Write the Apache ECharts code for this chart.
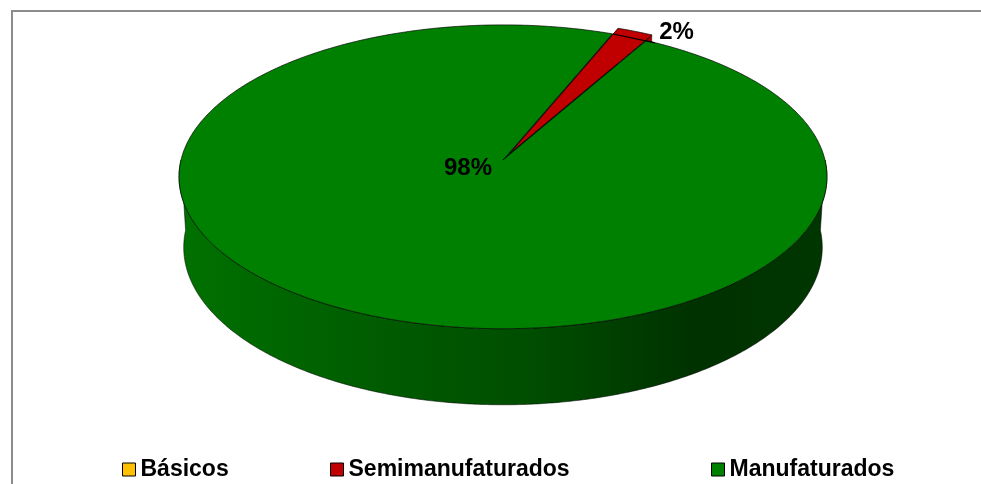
<!DOCTYPE html>
<html><head><meta charset="utf-8">
<script src="https://cdn.jsdelivr.net/npm/echarts@6/dist/echarts.min.js"></script>
<style>html,body{margin:0;padding:0;background:#fff}#c{width:981px;height:484px}</style>
</head><body><div id="c"></div>
<script>
// ---- data ----
const categories = ['Básicos', 'Semimanufaturados', 'Manufaturados'];
const values = [0, 2, 98];

// ---- styles / layout ----
const colors = ['#FFC000', '#C00000', '#008000'];
const EXPLODE = [0, 0.05, 0];
const PIE = { cx: 503, cy: 160, scale: 322, tiltSin: 0.466, dist: 8, height: 0.25, firstSliceAngle: 22 };
const LEGEND_LEFT = [122, 330, 711];
const INSIDE_LABEL_OFFSET = [-35, 8];
const FONT = '"Liberation Sans", Arial, Helvetica, sans-serif';

const cosA = Math.sqrt(1 - PIE.tiltSin * PIE.tiltSin);
const RAD = Math.PI / 180;
function proj(X, Y, Z) {
  const d = PIE.dist + Z * cosA - Y * PIE.tiltSin;
  const k = PIE.dist / d;
  return [PIE.cx + PIE.scale * X * k, PIE.cy - PIE.scale * (Y * cosA + Z * PIE.tiltSin) * k];
}
function shade(hex, f) {
  const n = parseInt(hex.slice(1), 16);
  const r = Math.round(((n >> 16) & 255) * f), g = Math.round(((n >> 8) & 255) * f), b = Math.round((n & 255) * f);
  return 'rgb(' + r + ',' + g + ',' + b + ')';
}
const total = values.reduce((a, b) => a + b, 0);

function renderSlice(i) {
  return function (params, api) {
    const v = api.value(0);
    if (!(v > 0)) return null;
    let before = 0;
    for (let j = 0; j < i; j++) before += values[j];
    const cwA = PIE.firstSliceAngle + 360 * before / total;
    const cwB = cwA + 360 * v / total;
    const ta = 90 - cwA, tb = 90 - cwB; // ta > tb
    const mid = (ta + tb) / 2;
    const e = EXPLODE[i];
    const ox = e * Math.cos(mid * RAD), oz = e * Math.sin(mid * RAD);
    const H = PIE.height;
    const P = (r, t, Y) => proj(ox + r * Math.cos(t * RAD), Y, oz + r * Math.sin(t * RAD));
    const arc = (t0, t1, Y) => {
      const n = Math.max(2, Math.ceil(Math.abs(t1 - t0) / 0.5));
      const pts = [];
      for (let k = 0; k <= n; k++) pts.push(P(1, t0 + (t1 - t0) * k / n, Y));
      return pts;
    };
    const base = colors[i];
    const sideZ = 2 - Math.sin(mid * RAD);
    const children = [];
    // radial cut faces
    [ta, tb].forEach(t => {
      children.push({
        type: 'polygon', z2: sideZ,
        shape: { points: [P(0, t, 0), P(1, t, 0), P(1, t, -H), P(0, t, -H)] },
        style: { fill: shade(base, i === 2 ? 0.45 : 0.85), stroke: 'rgba(0,0,0,0.6)', lineWidth: 0.6 }
      });
    });
    // outer wall (front half only)
    const grad = new echarts.graphic.LinearGradient(PIE.cx - PIE.scale, 0, PIE.cx + PIE.scale, 0, [
      { offset: 0, color: shade(base, 0.88) },
      { offset: 0.3, color: shade(base, 0.72) },
      { offset: 0.55, color: shade(base, 0.6) },
      { offset: 0.8, color: shade(base, 0.38) },
      { offset: 1, color: shade(base, 0.42) }
    ], true);
    for (let k = -2; k <= 2; k++) {
      const lo = Math.max(tb, 180 + 360 * k), hi = Math.min(ta, 360 + 360 * k);
      if (hi > lo) {
        const pts = arc(lo, hi, 0).concat(arc(hi, lo, -H));
        children.push({
          type: 'polygon', z2: sideZ + 0.1, shape: { points: pts },
          style: { fill: grad, stroke: 'rgba(0,0,0,0.75)', lineWidth: 0.7 }
        });
      }
    }
    // top face
    children.push({
      type: 'polygon', z2: 10,
      shape: { points: [P(0, 0, 0)].concat(arc(ta, tb, 0)) },
      style: { fill: base, stroke: 'rgba(0,0,0,0.85)', lineWidth: 0.8 }
    });
    // label
    const txt = Math.round(v / total * 100) + '%';
    if (v / total >= 0.1) {
      const c = P(0, 0, 0);
      children.push({
        type: 'text', z2: 20, x: c[0] + INSIDE_LABEL_OFFSET[0], y: c[1] + INSIDE_LABEL_OFFSET[1],
        style: { text: txt, font: 'bold 24px ' + FONT, fill: '#000', align: 'center', verticalAlign: 'middle' }
      });
    } else {
      const m = P(1, mid, 0);
      const a = P(0.95, ta, 0), b = P(1, tb, 0);
      children.push({
        type: 'polyline', z2: 19,
        shape: { points: [a, [b[0] + 3, b[1] + 8]] },
        style: { stroke: '#000', lineWidth: 1.2, fill: 'none' }
      });
      children.push({
        type: 'text', z2: 20, x: m[0] + 24, y: m[1] + 1,
        style: { text: txt, font: 'bold 24px ' + FONT, fill: '#000', align: 'left', verticalAlign: 'middle' }
      });
    }
    return { type: 'group', children: children };
  };
}

const chart = echarts.init(document.getElementById('c'), null, { renderer: 'canvas' });
chart.setOption({
  animation: false,
  backgroundColor: '#fff',
  graphic: [{
    type: 'rect', silent: true, z: -10,
    shape: { x: 12, y: 11, width: 1100, height: 1000 },
    style: { fill: 'none', stroke: '#8c8c8c', lineWidth: 2 }
  }],
  legend: categories.map((name, i) => ({
    data: [name], left: LEGEND_LEFT[i], top: 458, padding: 0,
    icon: 'rect', itemWidth: 13, itemHeight: 13, selectedMode: false,
    itemStyle: { borderColor: '#000', borderWidth: 1 },
    textStyle: { fontSize: 23, fontWeight: 'bold', fontFamily: FONT, color: '#000' }
  })),
  series: categories.map((name, i) => ({
    type: 'custom', name: name, coordinateSystem: 'none',
    data: [[values[i]]],
    itemStyle: { color: colors[i] },
    emphasis: { disabled: true },
    renderItem: renderSlice(i)
  }))
});
</script>
</body></html>
